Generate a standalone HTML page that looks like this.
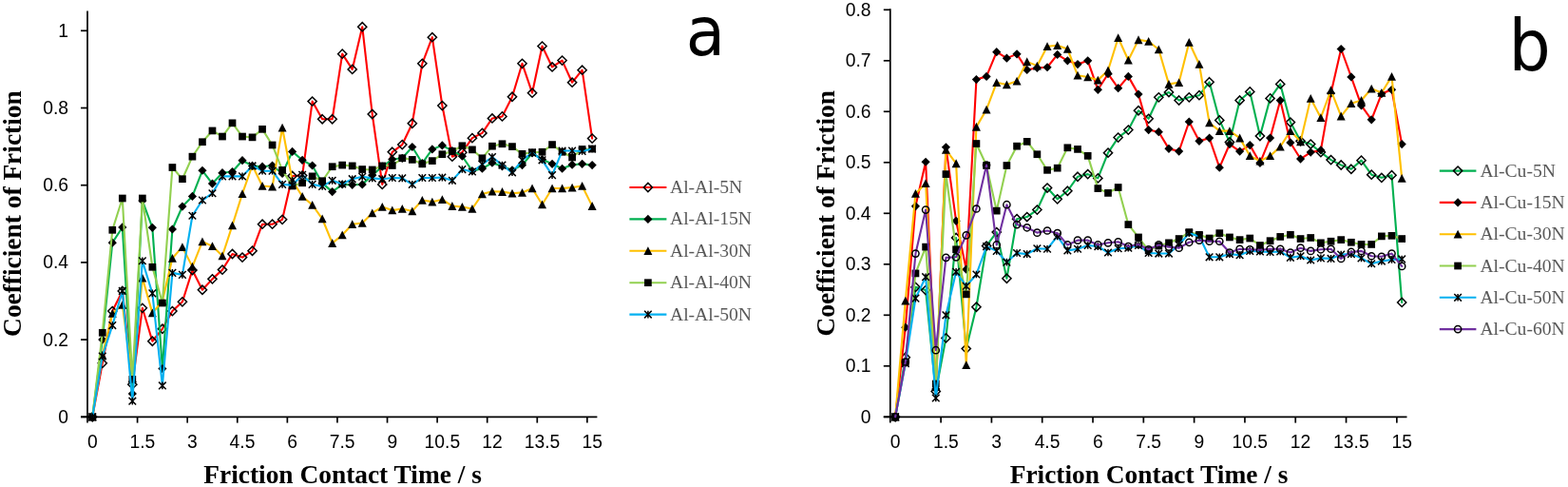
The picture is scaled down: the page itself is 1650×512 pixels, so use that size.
<!DOCTYPE html>
<html><head><meta charset="utf-8"><title>Coefficient of Friction vs Friction Contact Time</title>
<style>
html,body{margin:0;padding:0;background:#fff;}
body{width:1650px;height:512px;overflow:hidden;}
svg{display:block;}
.ax{stroke:#000;stroke-width:1.7;fill:none;}
.tl{font-family:"Liberation Sans",Arial,sans-serif;font-size:19.3px;fill:#000;}
.lg{font-family:"Liberation Serif","Times New Roman",serif;font-size:19.6px;fill:#595959;}
.ti{font-family:"Liberation Serif","Times New Roman",serif;font-size:27.4px;font-weight:bold;fill:#000;}
.big{font-family:"DejaVu Sans",sans-serif;fill:#000;}
.od{fill:none;stroke:#000;stroke-width:1.5;}
.oc{fill:none;stroke:#000;stroke-width:1.5;}
.as{fill:none;stroke:#000;stroke-width:1.5;}
</style></head>
<body>
<svg width="1650" height="512" viewBox="0 0 1650 512">
<rect width="1650" height="512" fill="#fff"/>
<path d="M92 11.5V444.6" class="ax"/>
<path d="M85 438.3H628.4" class="ax"/>
<path d="M85 438.3H92" class="ax"/>
<text x="72" y="444.8" class="tl" text-anchor="end">0</text>
<path d="M85 357.1H92" class="ax"/>
<text x="72" y="363.6" class="tl" text-anchor="end">0.2</text>
<path d="M85 275.9H92" class="ax"/>
<text x="72" y="282.4" class="tl" text-anchor="end">0.4</text>
<path d="M85 194.7H92" class="ax"/>
<text x="72" y="201.2" class="tl" text-anchor="end">0.6</text>
<path d="M85 113.5H92" class="ax"/>
<text x="72" y="120" class="tl" text-anchor="end">0.8</text>
<path d="M85 32.3H92" class="ax"/>
<text x="72" y="38.8" class="tl" text-anchor="end">1</text>
<path d="M144.59 438.3V444.6" class="ax"/>
<path d="M197.18 438.3V444.6" class="ax"/>
<path d="M249.76 438.3V444.6" class="ax"/>
<path d="M302.35 438.3V444.6" class="ax"/>
<path d="M354.94 438.3V444.6" class="ax"/>
<path d="M407.53 438.3V444.6" class="ax"/>
<path d="M460.12 438.3V444.6" class="ax"/>
<path d="M512.71 438.3V444.6" class="ax"/>
<path d="M565.29 438.3V444.6" class="ax"/>
<path d="M617.88 438.3V444.6" class="ax"/>
<text x="97.26" y="471.2" class="tl" text-anchor="middle">0</text>
<text x="149.85" y="471.2" class="tl" text-anchor="middle">1.5</text>
<text x="202.44" y="471.2" class="tl" text-anchor="middle">3</text>
<text x="255.02" y="471.2" class="tl" text-anchor="middle">4.5</text>
<text x="307.61" y="471.2" class="tl" text-anchor="middle">6</text>
<text x="360.2" y="471.2" class="tl" text-anchor="middle">7.5</text>
<text x="412.79" y="471.2" class="tl" text-anchor="middle">9</text>
<text x="465.38" y="471.2" class="tl" text-anchor="middle">10.5</text>
<text x="517.96" y="471.2" class="tl" text-anchor="middle">12</text>
<text x="570.55" y="471.2" class="tl" text-anchor="middle">13.5</text>
<text x="623.14" y="471.2" class="tl" text-anchor="middle">15</text>
<path d="M97.26 438.3 L107.78 381.87 L118.29 327.06 L128.81 305.94 L139.33 404.2 L149.85 323.81 L160.36 358.72 L170.88 345.73 L181.4 327.06 L191.92 317.31 L202.44 284.02 L212.95 304.73 L223.47 293.36 L233.99 283.61 L244.51 266.97 L255.02 270.62 L265.54 263.72 L276.06 235.71 L286.58 235.71 L297.09 230.83 L307.61 184.96 L318.13 184.55 L328.65 106.6 L339.16 125.27 L349.68 125.27 L360.2 56.66 L370.72 72.9 L381.24 28.24 L391.75 120 L402.27 193.89 L412.79 159.78 L423.31 152.07 L433.82 129.74 L444.34 66.81 L454.86 39.2 L465.38 111.06 L475.89 164.66 L486.41 160.19 L496.93 145.17 L507.45 139.89 L517.96 124.46 L528.48 122.43 L539 101.73 L549.52 66.81 L560.04 97.67 L570.55 48.54 L581.07 70.46 L591.59 63.56 L602.11 86.7 L612.62 73.71 L623.14 145.57" fill="none" stroke="#FF0000" stroke-width="2.1" stroke-linejoin="round" stroke-linecap="round"/>
<g><path d="M97.26 433.7L101.86 438.3L97.26 442.9L92.66 438.3Z" class="od"/><path d="M107.78 377.27L112.38 381.87L107.78 386.47L103.18 381.87Z" class="od"/><path d="M118.29 322.46L122.89 327.06L118.29 331.66L113.69 327.06Z" class="od"/><path d="M128.81 301.34L133.41 305.94L128.81 310.54L124.21 305.94Z" class="od"/><path d="M139.33 399.6L143.93 404.2L139.33 408.8L134.73 404.2Z" class="od"/><path d="M149.85 319.21L154.45 323.81L149.85 328.41L145.25 323.81Z" class="od"/><path d="M160.36 354.12L164.96 358.72L160.36 363.32L155.76 358.72Z" class="od"/><path d="M170.88 341.13L175.48 345.73L170.88 350.33L166.28 345.73Z" class="od"/><path d="M181.4 322.46L186 327.06L181.4 331.66L176.8 327.06Z" class="od"/><path d="M191.92 312.71L196.52 317.31L191.92 321.91L187.32 317.31Z" class="od"/><path d="M202.44 279.42L207.04 284.02L202.44 288.62L197.84 284.02Z" class="od"/><path d="M212.95 300.13L217.55 304.73L212.95 309.33L208.35 304.73Z" class="od"/><path d="M223.47 288.76L228.07 293.36L223.47 297.96L218.87 293.36Z" class="od"/><path d="M233.99 279.01L238.59 283.61L233.99 288.21L229.39 283.61Z" class="od"/><path d="M244.51 262.37L249.11 266.97L244.51 271.57L239.91 266.97Z" class="od"/><path d="M255.02 266.02L259.62 270.62L255.02 275.22L250.42 270.62Z" class="od"/><path d="M265.54 259.12L270.14 263.72L265.54 268.32L260.94 263.72Z" class="od"/><path d="M276.06 231.11L280.66 235.71L276.06 240.31L271.46 235.71Z" class="od"/><path d="M286.58 231.11L291.18 235.71L286.58 240.31L281.98 235.71Z" class="od"/><path d="M297.09 226.23L301.69 230.83L297.09 235.43L292.49 230.83Z" class="od"/><path d="M307.61 180.36L312.21 184.96L307.61 189.56L303.01 184.96Z" class="od"/><path d="M318.13 179.95L322.73 184.55L318.13 189.15L313.53 184.55Z" class="od"/><path d="M328.65 102L333.25 106.6L328.65 111.2L324.05 106.6Z" class="od"/><path d="M339.16 120.67L343.76 125.27L339.16 129.87L334.56 125.27Z" class="od"/><path d="M349.68 120.67L354.28 125.27L349.68 129.87L345.08 125.27Z" class="od"/><path d="M360.2 52.06L364.8 56.66L360.2 61.26L355.6 56.66Z" class="od"/><path d="M370.72 68.3L375.32 72.9L370.72 77.5L366.12 72.9Z" class="od"/><path d="M381.24 23.64L385.84 28.24L381.24 32.84L376.64 28.24Z" class="od"/><path d="M391.75 115.4L396.35 120L391.75 124.6L387.15 120Z" class="od"/><path d="M402.27 189.29L406.87 193.89L402.27 198.49L397.67 193.89Z" class="od"/><path d="M412.79 155.18L417.39 159.78L412.79 164.38L408.19 159.78Z" class="od"/><path d="M423.31 147.47L427.91 152.07L423.31 156.67L418.71 152.07Z" class="od"/><path d="M433.82 125.14L438.42 129.74L433.82 134.34L429.22 129.74Z" class="od"/><path d="M444.34 62.21L448.94 66.81L444.34 71.41L439.74 66.81Z" class="od"/><path d="M454.86 34.6L459.46 39.2L454.86 43.8L450.26 39.2Z" class="od"/><path d="M465.38 106.46L469.98 111.06L465.38 115.66L460.78 111.06Z" class="od"/><path d="M475.89 160.06L480.49 164.66L475.89 169.26L471.29 164.66Z" class="od"/><path d="M486.41 155.59L491.01 160.19L486.41 164.79L481.81 160.19Z" class="od"/><path d="M496.93 140.57L501.53 145.17L496.93 149.77L492.33 145.17Z" class="od"/><path d="M507.45 135.29L512.05 139.89L507.45 144.49L502.85 139.89Z" class="od"/><path d="M517.96 119.86L522.56 124.46L517.96 129.06L513.36 124.46Z" class="od"/><path d="M528.48 117.83L533.08 122.43L528.48 127.03L523.88 122.43Z" class="od"/><path d="M539 97.13L543.6 101.73L539 106.33L534.4 101.73Z" class="od"/><path d="M549.52 62.21L554.12 66.81L549.52 71.41L544.92 66.81Z" class="od"/><path d="M560.04 93.07L564.64 97.67L560.04 102.27L555.44 97.67Z" class="od"/><path d="M570.55 43.94L575.15 48.54L570.55 53.14L565.95 48.54Z" class="od"/><path d="M581.07 65.86L585.67 70.46L581.07 75.06L576.47 70.46Z" class="od"/><path d="M591.59 58.96L596.19 63.56L591.59 68.16L586.99 63.56Z" class="od"/><path d="M602.11 82.1L606.71 86.7L602.11 91.3L597.51 86.7Z" class="od"/><path d="M612.62 69.11L617.22 73.71L612.62 78.31L608.02 73.71Z" class="od"/><path d="M623.14 140.97L627.74 145.57L623.14 150.17L618.54 145.57Z" class="od"/></g>
<path d="M97.26 438.3 L107.78 357.1 L118.29 255.19 L128.81 238.95 L139.33 413.94 L149.85 210.94 L160.36 239.36 L170.88 387.55 L181.4 240.98 L191.92 217.03 L202.44 206.47 L212.95 179.27 L223.47 193.08 L233.99 181.71 L244.51 180.49 L255.02 168.72 L265.54 174.4 L276.06 175.21 L286.58 173.99 L297.09 182.52 L307.61 159.38 L318.13 168.31 L328.65 173.99 L339.16 192.67 L349.68 201.6 L360.2 193.89 L370.72 194.29 L381.24 193.89 L391.75 184.14 L402.27 175.21 L412.79 167.5 L423.31 166.28 L433.82 154.51 L444.34 171.56 L454.86 156.94 L465.38 152.88 L475.89 158.57 L486.41 164.25 L496.93 179.68 L507.45 177.24 L517.96 171.15 L528.48 174.81 L539 178.87 L549.52 173.59 L560.04 161 L570.55 167.5 L581.07 172.37 L591.59 177.24 L602.11 173.18 L612.62 172.37 L623.14 173.59" fill="none" stroke="#00B050" stroke-width="2.1" stroke-linejoin="round" stroke-linecap="round"/>
<g><path d="M97.26 433.7L101.86 438.3L97.26 442.9L92.66 438.3Z"/><path d="M107.78 352.5L112.38 357.1L107.78 361.7L103.18 357.1Z"/><path d="M118.29 250.59L122.89 255.19L118.29 259.79L113.69 255.19Z"/><path d="M128.81 234.35L133.41 238.95L128.81 243.55L124.21 238.95Z"/><path d="M139.33 409.34L143.93 413.94L139.33 418.54L134.73 413.94Z"/><path d="M149.85 206.34L154.45 210.94L149.85 215.54L145.25 210.94Z"/><path d="M160.36 234.76L164.96 239.36L160.36 243.96L155.76 239.36Z"/><path d="M170.88 382.95L175.48 387.55L170.88 392.15L166.28 387.55Z"/><path d="M181.4 236.38L186 240.98L181.4 245.58L176.8 240.98Z"/><path d="M191.92 212.43L196.52 217.03L191.92 221.63L187.32 217.03Z"/><path d="M202.44 201.87L207.04 206.47L202.44 211.07L197.84 206.47Z"/><path d="M212.95 174.67L217.55 179.27L212.95 183.87L208.35 179.27Z"/><path d="M223.47 188.48L228.07 193.08L223.47 197.68L218.87 193.08Z"/><path d="M233.99 177.11L238.59 181.71L233.99 186.31L229.39 181.71Z"/><path d="M244.51 175.89L249.11 180.49L244.51 185.09L239.91 180.49Z"/><path d="M255.02 164.12L259.62 168.72L255.02 173.32L250.42 168.72Z"/><path d="M265.54 169.8L270.14 174.4L265.54 179L260.94 174.4Z"/><path d="M276.06 170.61L280.66 175.21L276.06 179.81L271.46 175.21Z"/><path d="M286.58 169.39L291.18 173.99L286.58 178.59L281.98 173.99Z"/><path d="M297.09 177.92L301.69 182.52L297.09 187.12L292.49 182.52Z"/><path d="M307.61 154.78L312.21 159.38L307.61 163.98L303.01 159.38Z"/><path d="M318.13 163.71L322.73 168.31L318.13 172.91L313.53 168.31Z"/><path d="M328.65 169.39L333.25 173.99L328.65 178.59L324.05 173.99Z"/><path d="M339.16 188.07L343.76 192.67L339.16 197.27L334.56 192.67Z"/><path d="M349.68 197L354.28 201.6L349.68 206.2L345.08 201.6Z"/><path d="M360.2 189.29L364.8 193.89L360.2 198.49L355.6 193.89Z"/><path d="M370.72 189.69L375.32 194.29L370.72 198.89L366.12 194.29Z"/><path d="M381.24 189.29L385.84 193.89L381.24 198.49L376.64 193.89Z"/><path d="M391.75 179.54L396.35 184.14L391.75 188.74L387.15 184.14Z"/><path d="M402.27 170.61L406.87 175.21L402.27 179.81L397.67 175.21Z"/><path d="M412.79 162.9L417.39 167.5L412.79 172.1L408.19 167.5Z"/><path d="M423.31 161.68L427.91 166.28L423.31 170.88L418.71 166.28Z"/><path d="M433.82 149.91L438.42 154.51L433.82 159.11L429.22 154.51Z"/><path d="M444.34 166.96L448.94 171.56L444.34 176.16L439.74 171.56Z"/><path d="M454.86 152.34L459.46 156.94L454.86 161.54L450.26 156.94Z"/><path d="M465.38 148.28L469.98 152.88L465.38 157.48L460.78 152.88Z"/><path d="M475.89 153.97L480.49 158.57L475.89 163.17L471.29 158.57Z"/><path d="M486.41 159.65L491.01 164.25L486.41 168.85L481.81 164.25Z"/><path d="M496.93 175.08L501.53 179.68L496.93 184.28L492.33 179.68Z"/><path d="M507.45 172.64L512.05 177.24L507.45 181.84L502.85 177.24Z"/><path d="M517.96 166.55L522.56 171.15L517.96 175.75L513.36 171.15Z"/><path d="M528.48 170.21L533.08 174.81L528.48 179.41L523.88 174.81Z"/><path d="M539 174.27L543.6 178.87L539 183.47L534.4 178.87Z"/><path d="M549.52 168.99L554.12 173.59L549.52 178.19L544.92 173.59Z"/><path d="M560.04 156.4L564.64 161L560.04 165.6L555.44 161Z"/><path d="M570.55 162.9L575.15 167.5L570.55 172.1L565.95 167.5Z"/><path d="M581.07 167.77L585.67 172.37L581.07 176.97L576.47 172.37Z"/><path d="M591.59 172.64L596.19 177.24L591.59 181.84L586.99 177.24Z"/><path d="M602.11 168.58L606.71 173.18L602.11 177.78L597.51 173.18Z"/><path d="M612.62 167.77L617.22 172.37L612.62 176.97L608.02 172.37Z"/><path d="M623.14 168.99L627.74 173.59L623.14 178.19L618.54 173.59Z"/></g>
<path d="M97.26 438.3 L107.78 373.34 L118.29 329.49 L128.81 320.56 L139.33 397.7 L149.85 292.14 L160.36 329.09 L170.88 316.5 L181.4 271.43 L191.92 259.66 L202.44 280.37 L212.95 253.98 L223.47 258.85 L233.99 269 L244.51 236.92 L255.02 203.63 L265.54 173.99 L276.06 195.51 L286.58 196.32 L297.09 134.21 L307.61 189.83 L318.13 206.47 L328.65 215.41 L339.16 230.02 L349.68 255.6 L360.2 247.07 L370.72 235.71 L381.24 234.49 L391.75 223.93 L402.27 217.44 L412.79 221.09 L423.31 219.47 L433.82 221.9 L444.34 210.53 L454.86 212.16 L465.38 209.72 L475.89 216.62 L486.41 217.44 L496.93 219.47 L507.45 204.04 L517.96 201.2 L528.48 201.6 L539 203.23 L549.52 202.41 L560.04 197.95 L570.55 215 L581.07 197.95 L591.59 197.95 L602.11 197.14 L612.62 195.51 L623.14 216.62" fill="none" stroke="#FFC000" stroke-width="2.1" stroke-linejoin="round" stroke-linecap="round"/>
<g><path d="M97.26 433.8L101.76 442.57L92.76 442.57Z"/><path d="M107.78 368.84L112.28 377.62L103.28 377.62Z"/><path d="M118.29 324.99L122.79 333.77L113.79 333.77Z"/><path d="M128.81 316.06L133.31 324.83L124.31 324.83Z"/><path d="M139.33 393.2L143.83 401.97L134.83 401.97Z"/><path d="M149.85 287.64L154.35 296.41L145.35 296.41Z"/><path d="M160.36 324.59L164.86 333.36L155.86 333.36Z"/><path d="M170.88 312L175.38 320.77L166.38 320.77Z"/><path d="M181.4 266.93L185.9 275.71L176.9 275.71Z"/><path d="M191.92 255.16L196.42 263.93L187.42 263.93Z"/><path d="M202.44 275.87L206.94 284.64L197.94 284.64Z"/><path d="M212.95 249.48L217.45 258.25L208.45 258.25Z"/><path d="M223.47 254.35L227.97 263.12L218.97 263.12Z"/><path d="M233.99 264.5L238.49 273.27L229.49 273.27Z"/><path d="M244.51 232.42L249.01 241.2L240.01 241.2Z"/><path d="M255.02 199.13L259.52 207.91L250.52 207.91Z"/><path d="M265.54 169.49L270.04 178.27L261.04 178.27Z"/><path d="M276.06 191.01L280.56 199.79L271.56 199.79Z"/><path d="M286.58 191.82L291.08 200.6L282.08 200.6Z"/><path d="M297.09 129.71L301.59 138.48L292.59 138.48Z"/><path d="M307.61 185.33L312.11 194.1L303.11 194.1Z"/><path d="M318.13 201.97L322.63 210.75L313.63 210.75Z"/><path d="M328.65 210.91L333.15 219.68L324.15 219.68Z"/><path d="M339.16 225.52L343.66 234.3L334.66 234.3Z"/><path d="M349.68 251.1L354.18 259.88L345.18 259.88Z"/><path d="M360.2 242.57L364.7 251.35L355.7 251.35Z"/><path d="M370.72 231.21L375.22 239.98L366.22 239.98Z"/><path d="M381.24 229.99L385.74 238.76L376.74 238.76Z"/><path d="M391.75 219.43L396.25 228.21L387.25 228.21Z"/><path d="M402.27 212.94L406.77 221.71L397.77 221.71Z"/><path d="M412.79 216.59L417.29 225.37L408.29 225.37Z"/><path d="M423.31 214.97L427.81 223.74L418.81 223.74Z"/><path d="M433.82 217.4L438.32 226.18L429.32 226.18Z"/><path d="M444.34 206.03L448.84 214.81L439.84 214.81Z"/><path d="M454.86 207.66L459.36 216.43L450.36 216.43Z"/><path d="M465.38 205.22L469.88 214L460.88 214Z"/><path d="M475.89 212.12L480.39 220.9L471.39 220.9Z"/><path d="M486.41 212.94L490.91 221.71L481.91 221.71Z"/><path d="M496.93 214.97L501.43 223.74L492.43 223.74Z"/><path d="M507.45 199.54L511.95 208.31L502.95 208.31Z"/><path d="M517.96 196.7L522.46 205.47L513.46 205.47Z"/><path d="M528.48 197.1L532.98 205.88L523.98 205.88Z"/><path d="M539 198.73L543.5 207.5L534.5 207.5Z"/><path d="M549.52 197.91L554.02 206.69L545.02 206.69Z"/><path d="M560.04 193.45L564.54 202.22L555.54 202.22Z"/><path d="M570.55 210.5L575.05 219.28L566.05 219.28Z"/><path d="M581.07 193.45L585.57 202.22L576.57 202.22Z"/><path d="M591.59 193.45L596.09 202.22L587.09 202.22Z"/><path d="M602.11 192.64L606.61 201.41L597.61 201.41Z"/><path d="M612.62 191.01L617.12 199.79L608.12 199.79Z"/><path d="M623.14 212.12L627.64 220.9L618.64 220.9Z"/></g>
<path d="M97.26 438.3 L107.78 349.79 L118.29 241.8 L128.81 208.5 L139.33 398.92 L149.85 208.5 L160.36 280.77 L170.88 318.53 L181.4 176.02 L191.92 188.2 L202.44 164.66 L212.95 149.23 L223.47 137.45 L233.99 143.54 L244.51 129.33 L255.02 143.54 L265.54 144.36 L276.06 135.83 L286.58 152.48 L297.09 178.87 L307.61 195.51 L318.13 192.26 L328.65 185.36 L339.16 190.23 L349.68 175.21 L360.2 173.59 L370.72 174.4 L381.24 178.05 L391.75 178.46 L402.27 174.4 L412.79 173.99 L423.31 166.28 L433.82 167.9 L444.34 172.37 L454.86 169.12 L465.38 162.22 L475.89 158.97 L486.41 153.29 L496.93 157.35 L507.45 166.28 L517.96 153.69 L528.48 151.26 L539 154.1 L549.52 161.81 L560.04 160.19 L570.55 159.78 L581.07 152.07 L591.59 159.78 L602.11 165.47 L612.62 156.94 L623.14 156.54" fill="none" stroke="#92D050" stroke-width="2.1" stroke-linejoin="round" stroke-linecap="round"/>
<g><rect x="93.41" y="434.45" width="7.7" height="7.7"/><rect x="103.93" y="345.94" width="7.7" height="7.7"/><rect x="114.44" y="237.95" width="7.7" height="7.7"/><rect x="124.96" y="204.65" width="7.7" height="7.7"/><rect x="135.48" y="395.07" width="7.7" height="7.7"/><rect x="146" y="204.65" width="7.7" height="7.7"/><rect x="156.51" y="276.92" width="7.7" height="7.7"/><rect x="167.03" y="314.68" width="7.7" height="7.7"/><rect x="177.55" y="172.17" width="7.7" height="7.7"/><rect x="188.07" y="184.35" width="7.7" height="7.7"/><rect x="198.59" y="160.81" width="7.7" height="7.7"/><rect x="209.1" y="145.38" width="7.7" height="7.7"/><rect x="219.62" y="133.6" width="7.7" height="7.7"/><rect x="230.14" y="139.69" width="7.7" height="7.7"/><rect x="240.66" y="125.48" width="7.7" height="7.7"/><rect x="251.17" y="139.69" width="7.7" height="7.7"/><rect x="261.69" y="140.51" width="7.7" height="7.7"/><rect x="272.21" y="131.98" width="7.7" height="7.7"/><rect x="282.73" y="148.63" width="7.7" height="7.7"/><rect x="293.24" y="175.02" width="7.7" height="7.7"/><rect x="303.76" y="191.66" width="7.7" height="7.7"/><rect x="314.28" y="188.41" width="7.7" height="7.7"/><rect x="324.8" y="181.51" width="7.7" height="7.7"/><rect x="335.31" y="186.38" width="7.7" height="7.7"/><rect x="345.83" y="171.36" width="7.7" height="7.7"/><rect x="356.35" y="169.74" width="7.7" height="7.7"/><rect x="366.87" y="170.55" width="7.7" height="7.7"/><rect x="377.39" y="174.2" width="7.7" height="7.7"/><rect x="387.9" y="174.61" width="7.7" height="7.7"/><rect x="398.42" y="170.55" width="7.7" height="7.7"/><rect x="408.94" y="170.14" width="7.7" height="7.7"/><rect x="419.46" y="162.43" width="7.7" height="7.7"/><rect x="429.97" y="164.05" width="7.7" height="7.7"/><rect x="440.49" y="168.52" width="7.7" height="7.7"/><rect x="451.01" y="165.27" width="7.7" height="7.7"/><rect x="461.53" y="158.37" width="7.7" height="7.7"/><rect x="472.04" y="155.12" width="7.7" height="7.7"/><rect x="482.56" y="149.44" width="7.7" height="7.7"/><rect x="493.08" y="153.5" width="7.7" height="7.7"/><rect x="503.6" y="162.43" width="7.7" height="7.7"/><rect x="514.11" y="149.84" width="7.7" height="7.7"/><rect x="524.63" y="147.41" width="7.7" height="7.7"/><rect x="535.15" y="150.25" width="7.7" height="7.7"/><rect x="545.67" y="157.96" width="7.7" height="7.7"/><rect x="556.19" y="156.34" width="7.7" height="7.7"/><rect x="566.7" y="155.93" width="7.7" height="7.7"/><rect x="577.22" y="148.22" width="7.7" height="7.7"/><rect x="587.74" y="155.93" width="7.7" height="7.7"/><rect x="598.26" y="161.62" width="7.7" height="7.7"/><rect x="608.77" y="153.09" width="7.7" height="7.7"/><rect x="619.29" y="152.69" width="7.7" height="7.7"/></g>
<path d="M97.26 438.3 L107.78 374.56 L118.29 342.08 L128.81 305.94 L139.33 421.65 L149.85 274.28 L160.36 308.38 L170.88 405.41 L181.4 286.86 L191.92 288.89 L202.44 226.77 L212.95 210.53 L223.47 203.23 L233.99 185.36 L244.51 185.36 L255.02 185.36 L265.54 174.4 L276.06 179.68 L286.58 179.68 L297.09 193.89 L307.61 194.7 L318.13 183.74 L328.65 193.89 L339.16 195.92 L349.68 189.83 L360.2 193.48 L370.72 188.2 L381.24 185.77 L391.75 187.39 L402.27 188.2 L412.79 186.99 L423.31 187.39 L433.82 193.89 L444.34 186.99 L454.86 186.99 L465.38 186.58 L475.89 189.83 L486.41 178.05 L496.93 180.49 L507.45 172.78 L517.96 165.06 L528.48 173.59 L539 181.3 L549.52 168.31 L560.04 160.6 L570.55 168.31 L581.07 184.14 L591.59 158.57 L602.11 158.57 L612.62 158.97 L623.14 156.54" fill="none" stroke="#00B0F0" stroke-width="2.1" stroke-linejoin="round" stroke-linecap="round"/>
<g><path d="M93.46 434.5L101.06 442.1M93.46 442.1L101.06 434.5M97.26 434.5L97.26 442.1" class="as"/><path d="M103.98 370.76L111.58 378.36M103.98 378.36L111.58 370.76M107.78 370.76L107.78 378.36" class="as"/><path d="M114.49 338.28L122.09 345.88M114.49 345.88L122.09 338.28M118.29 338.28L118.29 345.88" class="as"/><path d="M125.01 302.14L132.61 309.74M125.01 309.74L132.61 302.14M128.81 302.14L128.81 309.74" class="as"/><path d="M135.53 417.85L143.13 425.45M135.53 425.45L143.13 417.85M139.33 417.85L139.33 425.45" class="as"/><path d="M146.05 270.48L153.65 278.08M146.05 278.08L153.65 270.48M149.85 270.48L149.85 278.08" class="as"/><path d="M156.56 304.58L164.16 312.18M156.56 312.18L164.16 304.58M160.36 304.58L160.36 312.18" class="as"/><path d="M167.08 401.61L174.68 409.21M167.08 409.21L174.68 401.61M170.88 401.61L170.88 409.21" class="as"/><path d="M177.6 283.06L185.2 290.66M177.6 290.66L185.2 283.06M181.4 283.06L181.4 290.66" class="as"/><path d="M188.12 285.09L195.72 292.69M188.12 292.69L195.72 285.09M191.92 285.09L191.92 292.69" class="as"/><path d="M198.64 222.97L206.24 230.57M198.64 230.57L206.24 222.97M202.44 222.97L202.44 230.57" class="as"/><path d="M209.15 206.73L216.75 214.33M209.15 214.33L216.75 206.73M212.95 206.73L212.95 214.33" class="as"/><path d="M219.67 199.43L227.27 207.03M219.67 207.03L227.27 199.43M223.47 199.43L223.47 207.03" class="as"/><path d="M230.19 181.56L237.79 189.16M230.19 189.16L237.79 181.56M233.99 181.56L233.99 189.16" class="as"/><path d="M240.71 181.56L248.31 189.16M240.71 189.16L248.31 181.56M244.51 181.56L244.51 189.16" class="as"/><path d="M251.22 181.56L258.82 189.16M251.22 189.16L258.82 181.56M255.02 181.56L255.02 189.16" class="as"/><path d="M261.74 170.6L269.34 178.2M261.74 178.2L269.34 170.6M265.54 170.6L265.54 178.2" class="as"/><path d="M272.26 175.88L279.86 183.48M272.26 183.48L279.86 175.88M276.06 175.88L276.06 183.48" class="as"/><path d="M282.78 175.88L290.38 183.48M282.78 183.48L290.38 175.88M286.58 175.88L286.58 183.48" class="as"/><path d="M293.29 190.09L300.89 197.69M293.29 197.69L300.89 190.09M297.09 190.09L297.09 197.69" class="as"/><path d="M303.81 190.9L311.41 198.5M303.81 198.5L311.41 190.9M307.61 190.9L307.61 198.5" class="as"/><path d="M314.33 179.94L321.93 187.54M314.33 187.54L321.93 179.94M318.13 179.94L318.13 187.54" class="as"/><path d="M324.85 190.09L332.45 197.69M324.85 197.69L332.45 190.09M328.65 190.09L328.65 197.69" class="as"/><path d="M335.36 192.12L342.96 199.72M335.36 199.72L342.96 192.12M339.16 192.12L339.16 199.72" class="as"/><path d="M345.88 186.03L353.48 193.63M345.88 193.63L353.48 186.03M349.68 186.03L349.68 193.63" class="as"/><path d="M356.4 189.68L364 197.28M356.4 197.28L364 189.68M360.2 189.68L360.2 197.28" class="as"/><path d="M366.92 184.4L374.52 192M366.92 192L374.52 184.4M370.72 184.4L370.72 192" class="as"/><path d="M377.44 181.97L385.04 189.57M377.44 189.57L385.04 181.97M381.24 181.97L381.24 189.57" class="as"/><path d="M387.95 183.59L395.55 191.19M387.95 191.19L395.55 183.59M391.75 183.59L391.75 191.19" class="as"/><path d="M398.47 184.4L406.07 192M398.47 192L406.07 184.4M402.27 184.4L402.27 192" class="as"/><path d="M408.99 183.19L416.59 190.79M408.99 190.79L416.59 183.19M412.79 183.19L412.79 190.79" class="as"/><path d="M419.51 183.59L427.11 191.19M419.51 191.19L427.11 183.59M423.31 183.59L423.31 191.19" class="as"/><path d="M430.02 190.09L437.62 197.69M430.02 197.69L437.62 190.09M433.82 190.09L433.82 197.69" class="as"/><path d="M440.54 183.19L448.14 190.79M440.54 190.79L448.14 183.19M444.34 183.19L444.34 190.79" class="as"/><path d="M451.06 183.19L458.66 190.79M451.06 190.79L458.66 183.19M454.86 183.19L454.86 190.79" class="as"/><path d="M461.58 182.78L469.18 190.38M461.58 190.38L469.18 182.78M465.38 182.78L465.38 190.38" class="as"/><path d="M472.09 186.03L479.69 193.63M472.09 193.63L479.69 186.03M475.89 186.03L475.89 193.63" class="as"/><path d="M482.61 174.25L490.21 181.85M482.61 181.85L490.21 174.25M486.41 174.25L486.41 181.85" class="as"/><path d="M493.13 176.69L500.73 184.29M493.13 184.29L500.73 176.69M496.93 176.69L496.93 184.29" class="as"/><path d="M503.65 168.98L511.25 176.58M503.65 176.58L511.25 168.98M507.45 168.98L507.45 176.58" class="as"/><path d="M514.16 161.26L521.76 168.86M514.16 168.86L521.76 161.26M517.96 161.26L517.96 168.86" class="as"/><path d="M524.68 169.79L532.28 177.39M524.68 177.39L532.28 169.79M528.48 169.79L528.48 177.39" class="as"/><path d="M535.2 177.5L542.8 185.1M535.2 185.1L542.8 177.5M539 177.5L539 185.1" class="as"/><path d="M545.72 164.51L553.32 172.11M545.72 172.11L553.32 164.51M549.52 164.51L549.52 172.11" class="as"/><path d="M556.24 156.8L563.84 164.4M556.24 164.4L563.84 156.8M560.04 156.8L560.04 164.4" class="as"/><path d="M566.75 164.51L574.35 172.11M566.75 172.11L574.35 164.51M570.55 164.51L570.55 172.11" class="as"/><path d="M577.27 180.34L584.87 187.94M577.27 187.94L584.87 180.34M581.07 180.34L581.07 187.94" class="as"/><path d="M587.79 154.77L595.39 162.37M587.79 162.37L595.39 154.77M591.59 154.77L591.59 162.37" class="as"/><path d="M598.31 154.77L605.91 162.37M598.31 162.37L605.91 154.77M602.11 154.77L602.11 162.37" class="as"/><path d="M608.82 155.17L616.42 162.77M608.82 162.77L616.42 155.17M612.62 155.17L612.62 162.77" class="as"/><path d="M619.34 152.74L626.94 160.34M619.34 160.34L626.94 152.74M623.14 152.74L623.14 160.34" class="as"/></g>
<path d="M662.4 197H701.4" stroke="#FF0000" stroke-width="2.1" fill="none"/>
<path d="M681.9 192.4L686.5 197L681.9 201.6L677.3 197Z" class="od"/>
<text x="705" y="203" class="lg">Al-Al-5N</text>
<path d="M662.4 230.4H701.4" stroke="#00B050" stroke-width="2.1" fill="none"/>
<path d="M681.9 225.8L686.5 230.4L681.9 235L677.3 230.4Z"/>
<text x="705" y="236.4" class="lg">Al-Al-15N</text>
<path d="M662.4 263.8H701.4" stroke="#FFC000" stroke-width="2.1" fill="none"/>
<path d="M681.9 259.3L686.4 268.07L677.4 268.07Z"/>
<text x="705" y="269.8" class="lg">Al-Al-30N</text>
<path d="M662.4 297.2H701.4" stroke="#92D050" stroke-width="2.1" fill="none"/>
<rect x="678.05" y="293.35" width="7.7" height="7.7"/>
<text x="705" y="303.2" class="lg">Al-Al-40N</text>
<path d="M662.4 330.6H701.4" stroke="#00B0F0" stroke-width="2.1" fill="none"/>
<path d="M678.1 326.8L685.7 334.4M678.1 334.4L685.7 326.8M681.9 326.8L681.9 334.4" class="as"/>
<text x="705" y="336.6" class="lg">Al-Al-50N</text>
<path d="M936.8 9.3V444.6" class="ax"/>
<path d="M929.8 438.3H1480.5" class="ax"/>
<path d="M929.8 438.3H936.8" class="ax"/>
<text x="916.6" y="444.8" class="tl" text-anchor="end">0</text>
<path d="M929.8 384.8H936.8" class="ax"/>
<text x="916.6" y="391.3" class="tl" text-anchor="end">0.1</text>
<path d="M929.8 331.3H936.8" class="ax"/>
<text x="916.6" y="337.8" class="tl" text-anchor="end">0.2</text>
<path d="M929.8 277.8H936.8" class="ax"/>
<text x="916.6" y="284.3" class="tl" text-anchor="end">0.3</text>
<path d="M929.8 224.3H936.8" class="ax"/>
<text x="916.6" y="230.8" class="tl" text-anchor="end">0.4</text>
<path d="M929.8 170.8H936.8" class="ax"/>
<text x="916.6" y="177.3" class="tl" text-anchor="end">0.5</text>
<path d="M929.8 117.3H936.8" class="ax"/>
<text x="916.6" y="123.8" class="tl" text-anchor="end">0.6</text>
<path d="M929.8 63.8H936.8" class="ax"/>
<text x="916.6" y="70.3" class="tl" text-anchor="end">0.7</text>
<path d="M929.8 10.3H936.8" class="ax"/>
<text x="916.6" y="16.8" class="tl" text-anchor="end">0.8</text>
<path d="M990.1 438.3V444.6" class="ax"/>
<path d="M1043.41 438.3V444.6" class="ax"/>
<path d="M1096.71 438.3V444.6" class="ax"/>
<path d="M1150.02 438.3V444.6" class="ax"/>
<path d="M1203.32 438.3V444.6" class="ax"/>
<path d="M1256.62 438.3V444.6" class="ax"/>
<path d="M1309.93 438.3V444.6" class="ax"/>
<path d="M1363.23 438.3V444.6" class="ax"/>
<path d="M1416.54 438.3V444.6" class="ax"/>
<path d="M1469.84 438.3V444.6" class="ax"/>
<text x="942.13" y="471.2" class="tl" text-anchor="middle">0</text>
<text x="995.43" y="471.2" class="tl" text-anchor="middle">1.5</text>
<text x="1048.74" y="471.2" class="tl" text-anchor="middle">3</text>
<text x="1102.04" y="471.2" class="tl" text-anchor="middle">4.5</text>
<text x="1155.35" y="471.2" class="tl" text-anchor="middle">6</text>
<text x="1208.65" y="471.2" class="tl" text-anchor="middle">7.5</text>
<text x="1261.95" y="471.2" class="tl" text-anchor="middle">9</text>
<text x="1315.26" y="471.2" class="tl" text-anchor="middle">10.5</text>
<text x="1368.56" y="471.2" class="tl" text-anchor="middle">12</text>
<text x="1421.87" y="471.2" class="tl" text-anchor="middle">13.5</text>
<text x="1475.17" y="471.2" class="tl" text-anchor="middle">15</text>
<path d="M942.13 438.3 L952.79 375.7 L963.45 301.88 L974.11 305.09 L984.77 411.55 L995.43 355.38 L1006.1 249.98 L1016.76 366.61 L1027.42 322.74 L1038.08 258.54 L1048.74 244.1 L1059.4 292.78 L1070.06 230.19 L1080.72 228.05 L1091.38 220.56 L1102.04 197.55 L1112.7 209.32 L1123.36 200.76 L1134.02 185.78 L1144.69 183.11 L1155.35 187.39 L1166.01 160.63 L1176.67 144.58 L1187.33 136.56 L1197.99 116.23 L1208.65 124.79 L1219.31 102.32 L1229.97 96.97 L1240.63 105.53 L1251.29 102.32 L1261.95 100.18 L1272.61 86.27 L1283.28 126.4 L1293.94 149.4 L1304.6 105.53 L1315.26 96.44 L1325.92 142.98 L1336.58 103.39 L1347.24 88.41 L1357.9 128.54 L1368.56 148.33 L1379.22 151.54 L1389.88 160.1 L1400.54 168.12 L1411.2 173.48 L1421.87 177.75 L1432.53 168.66 L1443.19 183.64 L1453.85 186.85 L1464.51 184.18 L1475.17 317.93" fill="none" stroke="#00B050" stroke-width="2.1" stroke-linejoin="round" stroke-linecap="round"/>
<g><path d="M942.13 433.7L946.73 438.3L942.13 442.9L937.53 438.3Z" class="od"/><path d="M952.79 371.1L957.39 375.7L952.79 380.31L948.19 375.7Z" class="od"/><path d="M963.45 297.27L968.05 301.88L963.45 306.48L958.85 301.88Z" class="od"/><path d="M974.11 300.49L978.71 305.09L974.11 309.69L969.51 305.09Z" class="od"/><path d="M984.77 406.95L989.37 411.55L984.77 416.15L980.17 411.55Z" class="od"/><path d="M995.43 350.77L1000.03 355.38L995.43 359.98L990.83 355.38Z" class="od"/><path d="M1006.1 245.38L1010.7 249.98L1006.1 254.58L1001.5 249.98Z" class="od"/><path d="M1016.76 362.01L1021.36 366.61L1016.76 371.21L1012.16 366.61Z" class="od"/><path d="M1027.42 318.14L1032.02 322.74L1027.42 327.34L1022.82 322.74Z" class="od"/><path d="M1038.08 253.94L1042.68 258.54L1038.08 263.14L1033.48 258.54Z" class="od"/><path d="M1048.74 239.5L1053.34 244.1L1048.74 248.7L1044.14 244.1Z" class="od"/><path d="M1059.4 288.18L1064 292.78L1059.4 297.38L1054.8 292.78Z" class="od"/><path d="M1070.06 225.59L1074.66 230.19L1070.06 234.78L1065.46 230.19Z" class="od"/><path d="M1080.72 223.45L1085.32 228.05L1080.72 232.65L1076.12 228.05Z" class="od"/><path d="M1091.38 215.96L1095.98 220.56L1091.38 225.16L1086.78 220.56Z" class="od"/><path d="M1102.04 192.95L1106.64 197.55L1102.04 202.15L1097.44 197.55Z" class="od"/><path d="M1112.7 204.72L1117.3 209.32L1112.7 213.92L1108.1 209.32Z" class="od"/><path d="M1123.36 196.16L1127.96 200.76L1123.36 205.36L1118.76 200.76Z" class="od"/><path d="M1134.02 181.18L1138.62 185.78L1134.02 190.38L1129.42 185.78Z" class="od"/><path d="M1144.69 178.51L1149.29 183.11L1144.69 187.71L1140.09 183.11Z" class="od"/><path d="M1155.35 182.79L1159.95 187.39L1155.35 191.99L1150.75 187.39Z" class="od"/><path d="M1166.01 156.03L1170.61 160.63L1166.01 165.23L1161.41 160.63Z" class="od"/><path d="M1176.67 139.98L1181.27 144.58L1176.67 149.18L1172.07 144.58Z" class="od"/><path d="M1187.33 131.96L1191.93 136.56L1187.33 141.16L1182.73 136.56Z" class="od"/><path d="M1197.99 111.63L1202.59 116.23L1197.99 120.83L1193.39 116.23Z" class="od"/><path d="M1208.65 120.19L1213.25 124.79L1208.65 129.39L1204.05 124.79Z" class="od"/><path d="M1219.31 97.72L1223.91 102.32L1219.31 106.92L1214.71 102.32Z" class="od"/><path d="M1229.97 92.37L1234.57 96.97L1229.97 101.57L1225.37 96.97Z" class="od"/><path d="M1240.63 100.93L1245.23 105.53L1240.63 110.13L1236.03 105.53Z" class="od"/><path d="M1251.29 97.72L1255.89 102.32L1251.29 106.92L1246.69 102.32Z" class="od"/><path d="M1261.95 95.58L1266.55 100.18L1261.95 104.78L1257.35 100.18Z" class="od"/><path d="M1272.61 81.67L1277.21 86.27L1272.61 90.87L1268.01 86.27Z" class="od"/><path d="M1283.28 121.8L1287.88 126.4L1283.28 131L1278.68 126.4Z" class="od"/><path d="M1293.94 144.8L1298.54 149.4L1293.94 154L1289.34 149.4Z" class="od"/><path d="M1304.6 100.93L1309.2 105.53L1304.6 110.13L1300 105.53Z" class="od"/><path d="M1315.26 91.84L1319.86 96.44L1315.26 101.03L1310.66 96.44Z" class="od"/><path d="M1325.92 138.38L1330.52 142.98L1325.92 147.58L1321.32 142.98Z" class="od"/><path d="M1336.58 98.79L1341.18 103.39L1336.58 107.99L1331.98 103.39Z" class="od"/><path d="M1347.24 83.81L1351.84 88.41L1347.24 93.01L1342.64 88.41Z" class="od"/><path d="M1357.9 123.94L1362.5 128.54L1357.9 133.14L1353.3 128.54Z" class="od"/><path d="M1368.56 143.73L1373.16 148.33L1368.56 152.93L1363.96 148.33Z" class="od"/><path d="M1379.22 146.94L1383.82 151.54L1379.22 156.14L1374.62 151.54Z" class="od"/><path d="M1389.88 155.5L1394.48 160.1L1389.88 164.7L1385.28 160.1Z" class="od"/><path d="M1400.54 163.53L1405.14 168.12L1400.54 172.72L1395.94 168.12Z" class="od"/><path d="M1411.2 168.88L1415.8 173.48L1411.2 178.08L1406.6 173.48Z" class="od"/><path d="M1421.87 173.16L1426.47 177.75L1421.87 182.35L1417.27 177.75Z" class="od"/><path d="M1432.53 164.06L1437.13 168.66L1432.53 173.26L1427.93 168.66Z" class="od"/><path d="M1443.19 179.04L1447.79 183.64L1443.19 188.24L1438.59 183.64Z" class="od"/><path d="M1453.85 182.25L1458.45 186.85L1453.85 191.45L1449.25 186.85Z" class="od"/><path d="M1464.51 179.58L1469.11 184.18L1464.51 188.78L1459.91 184.18Z" class="od"/><path d="M1475.17 313.32L1479.77 317.93L1475.17 322.53L1470.57 317.93Z" class="od"/></g>
<path d="M942.13 438.3 L952.79 344.14 L963.45 216.81 L974.11 170.26 L984.77 408.88 L995.43 154.75 L1006.1 232.33 L1016.76 283.15 L1027.42 83.59 L1038.08 80.38 L1048.74 54.71 L1059.4 61.13 L1070.06 56.85 L1080.72 73.43 L1091.38 71.29 L1102.04 70.75 L1112.7 57.38 L1123.36 63.8 L1134.02 67.55 L1144.69 63.8 L1155.35 94.3 L1166.01 77.71 L1176.67 92.69 L1187.33 80.38 L1197.99 99.11 L1208.65 136.56 L1219.31 138.7 L1229.97 156.36 L1240.63 159.03 L1251.29 128 L1261.95 148.33 L1272.61 145.12 L1283.28 176.15 L1293.94 151.54 L1304.6 159.03 L1315.26 152.61 L1325.92 171.34 L1336.58 145.12 L1347.24 105.53 L1357.9 149.94 L1368.56 167.06 L1379.22 160.1 L1389.88 157.96 L1400.54 98.04 L1411.2 51.5 L1421.87 80.92 L1432.53 110.88 L1443.19 125.86 L1453.85 98.57 L1464.51 94.3 L1475.17 151.54" fill="none" stroke="#FF0000" stroke-width="2.1" stroke-linejoin="round" stroke-linecap="round"/>
<g><path d="M942.13 433.7L946.73 438.3L942.13 442.9L937.53 438.3Z"/><path d="M952.79 339.54L957.39 344.14L952.79 348.74L948.19 344.14Z"/><path d="M963.45 212.21L968.05 216.81L963.45 221.41L958.85 216.81Z"/><path d="M974.11 165.66L978.71 170.26L974.11 174.86L969.51 170.26Z"/><path d="M984.77 404.27L989.37 408.88L984.77 413.48L980.17 408.88Z"/><path d="M995.43 150.15L1000.03 154.75L995.43 159.35L990.83 154.75Z"/><path d="M1006.1 227.73L1010.7 232.33L1006.1 236.93L1001.5 232.33Z"/><path d="M1016.76 278.55L1021.36 283.15L1016.76 287.75L1012.16 283.15Z"/><path d="M1027.42 78.99L1032.02 83.59L1027.42 88.19L1022.82 83.59Z"/><path d="M1038.08 75.78L1042.68 80.38L1038.08 84.98L1033.48 80.38Z"/><path d="M1048.74 50.11L1053.34 54.71L1048.74 59.31L1044.14 54.71Z"/><path d="M1059.4 56.53L1064 61.13L1059.4 65.73L1054.8 61.13Z"/><path d="M1070.06 52.25L1074.66 56.85L1070.06 61.45L1065.46 56.85Z"/><path d="M1080.72 68.83L1085.32 73.43L1080.72 78.03L1076.12 73.43Z"/><path d="M1091.38 66.69L1095.98 71.29L1091.38 75.89L1086.78 71.29Z"/><path d="M1102.04 66.16L1106.64 70.75L1102.04 75.35L1097.44 70.75Z"/><path d="M1112.7 52.78L1117.3 57.38L1112.7 61.98L1108.1 57.38Z"/><path d="M1123.36 59.2L1127.96 63.8L1123.36 68.4L1118.76 63.8Z"/><path d="M1134.02 62.95L1138.62 67.55L1134.02 72.15L1129.42 67.55Z"/><path d="M1144.69 59.2L1149.29 63.8L1144.69 68.4L1140.09 63.8Z"/><path d="M1155.35 89.7L1159.95 94.3L1155.35 98.9L1150.75 94.3Z"/><path d="M1166.01 73.11L1170.61 77.71L1166.01 82.31L1161.41 77.71Z"/><path d="M1176.67 88.09L1181.27 92.69L1176.67 97.29L1172.07 92.69Z"/><path d="M1187.33 75.78L1191.93 80.38L1187.33 84.98L1182.73 80.38Z"/><path d="M1197.99 94.51L1202.59 99.11L1197.99 103.71L1193.39 99.11Z"/><path d="M1208.65 131.96L1213.25 136.56L1208.65 141.16L1204.05 136.56Z"/><path d="M1219.31 134.1L1223.91 138.7L1219.31 143.3L1214.71 138.7Z"/><path d="M1229.97 151.76L1234.57 156.36L1229.97 160.96L1225.37 156.36Z"/><path d="M1240.63 154.43L1245.23 159.03L1240.63 163.63L1236.03 159.03Z"/><path d="M1251.29 123.4L1255.89 128L1251.29 132.6L1246.69 128Z"/><path d="M1261.95 143.73L1266.55 148.33L1261.95 152.93L1257.35 148.33Z"/><path d="M1272.61 140.52L1277.21 145.12L1272.61 149.72L1268.01 145.12Z"/><path d="M1283.28 171.55L1287.88 176.15L1283.28 180.75L1278.68 176.15Z"/><path d="M1293.94 146.94L1298.54 151.54L1293.94 156.14L1289.34 151.54Z"/><path d="M1304.6 154.43L1309.2 159.03L1304.6 163.63L1300 159.03Z"/><path d="M1315.26 148.01L1319.86 152.61L1315.26 157.21L1310.66 152.61Z"/><path d="M1325.92 166.74L1330.52 171.34L1325.92 175.94L1321.32 171.34Z"/><path d="M1336.58 140.52L1341.18 145.12L1336.58 149.72L1331.98 145.12Z"/><path d="M1347.24 100.93L1351.84 105.53L1347.24 110.13L1342.64 105.53Z"/><path d="M1357.9 145.34L1362.5 149.94L1357.9 154.53L1353.3 149.94Z"/><path d="M1368.56 162.46L1373.16 167.06L1368.56 171.66L1363.96 167.06Z"/><path d="M1379.22 155.5L1383.82 160.1L1379.22 164.7L1374.62 160.1Z"/><path d="M1389.88 153.36L1394.48 157.96L1389.88 162.56L1385.28 157.96Z"/><path d="M1400.54 93.44L1405.14 98.04L1400.54 102.64L1395.94 98.04Z"/><path d="M1411.2 46.9L1415.8 51.5L1411.2 56.1L1406.6 51.5Z"/><path d="M1421.87 76.32L1426.47 80.92L1421.87 85.52L1417.27 80.92Z"/><path d="M1432.53 106.28L1437.13 110.88L1432.53 115.48L1427.93 110.88Z"/><path d="M1443.19 121.26L1447.79 125.86L1443.19 130.46L1438.59 125.86Z"/><path d="M1453.85 93.97L1458.45 98.57L1453.85 103.17L1449.25 98.57Z"/><path d="M1464.51 89.7L1469.11 94.3L1464.51 98.9L1459.91 94.3Z"/><path d="M1475.17 146.94L1479.77 151.54L1475.17 156.14L1470.57 151.54Z"/></g>
<path d="M942.13 438.3 L952.79 316.32 L963.45 203.44 L974.11 192.74 L984.77 406.2 L995.43 157.43 L1006.1 171.87 L1016.76 383.73 L1027.42 133.35 L1038.08 115.16 L1048.74 86.81 L1059.4 88.94 L1070.06 85.2 L1080.72 64.87 L1091.38 69.15 L1102.04 48.82 L1112.7 47.75 L1123.36 51.5 L1134.02 79.31 L1144.69 80.92 L1155.35 84.13 L1166.01 73.96 L1176.67 39.73 L1187.33 63.27 L1197.99 41.87 L1208.65 43.47 L1219.31 52.03 L1229.97 88.41 L1240.63 86.81 L1251.29 44.54 L1261.95 67.55 L1272.61 129.07 L1283.28 137.63 L1293.94 137.63 L1304.6 145.12 L1315.26 163.85 L1325.92 169.19 L1336.58 163.85 L1347.24 154.21 L1357.9 137.63 L1368.56 148.87 L1379.22 103.39 L1389.88 123.72 L1400.54 94.83 L1411.2 122.12 L1421.87 108.74 L1432.53 105.53 L1443.19 93.23 L1453.85 97.5 L1464.51 80.38 L1475.17 187.39" fill="none" stroke="#FFC000" stroke-width="2.1" stroke-linejoin="round" stroke-linecap="round"/>
<g><path d="M942.13 433.8L946.63 442.57L937.63 442.57Z"/><path d="M952.79 311.82L957.29 320.59L948.29 320.59Z"/><path d="M963.45 198.94L967.95 207.71L958.95 207.71Z"/><path d="M974.11 188.24L978.61 197.01L969.61 197.01Z"/><path d="M984.77 401.7L989.27 410.47L980.27 410.47Z"/><path d="M995.43 152.93L999.93 161.7L990.93 161.7Z"/><path d="M1006.1 167.37L1010.6 176.15L1001.6 176.15Z"/><path d="M1016.76 379.23L1021.26 388L1012.26 388Z"/><path d="M1027.42 128.85L1031.92 137.63L1022.92 137.63Z"/><path d="M1038.08 110.66L1042.58 119.44L1033.58 119.44Z"/><path d="M1048.74 82.31L1053.24 91.08L1044.24 91.08Z"/><path d="M1059.4 84.44L1063.9 93.22L1054.9 93.22Z"/><path d="M1070.06 80.7L1074.56 89.47L1065.56 89.47Z"/><path d="M1080.72 60.37L1085.22 69.15L1076.22 69.15Z"/><path d="M1091.38 64.65L1095.88 73.43L1086.88 73.43Z"/><path d="M1102.04 44.32L1106.54 53.1L1097.54 53.1Z"/><path d="M1112.7 43.25L1117.2 52.02L1108.2 52.02Z"/><path d="M1123.36 47L1127.86 55.77L1118.86 55.77Z"/><path d="M1134.02 74.81L1138.52 83.59L1129.52 83.59Z"/><path d="M1144.69 76.42L1149.19 85.2L1140.19 85.2Z"/><path d="M1155.35 79.63L1159.85 88.41L1150.85 88.41Z"/><path d="M1166.01 69.46L1170.51 78.24L1161.51 78.24Z"/><path d="M1176.67 35.23L1181.17 44L1172.17 44Z"/><path d="M1187.33 58.77L1191.83 67.54L1182.83 67.54Z"/><path d="M1197.99 37.37L1202.49 46.14L1193.49 46.14Z"/><path d="M1208.65 38.97L1213.15 47.75L1204.15 47.75Z"/><path d="M1219.31 47.53L1223.81 56.31L1214.81 56.31Z"/><path d="M1229.97 83.91L1234.47 92.69L1225.47 92.69Z"/><path d="M1240.63 82.31L1245.13 91.08L1236.13 91.08Z"/><path d="M1251.29 40.04L1255.79 48.82L1246.79 48.82Z"/><path d="M1261.95 63.05L1266.45 71.82L1257.45 71.82Z"/><path d="M1272.61 124.57L1277.11 133.35L1268.11 133.35Z"/><path d="M1283.28 133.13L1287.78 141.91L1278.78 141.91Z"/><path d="M1293.94 133.13L1298.44 141.91L1289.44 141.91Z"/><path d="M1304.6 140.62L1309.1 149.4L1300.1 149.4Z"/><path d="M1315.26 159.35L1319.76 168.12L1310.76 168.12Z"/><path d="M1325.92 164.69L1330.42 173.47L1321.42 173.47Z"/><path d="M1336.58 159.35L1341.08 168.12L1332.08 168.12Z"/><path d="M1347.24 149.71L1351.74 158.49L1342.74 158.49Z"/><path d="M1357.9 133.13L1362.4 141.91L1353.4 141.91Z"/><path d="M1368.56 144.37L1373.06 153.14L1364.06 153.14Z"/><path d="M1379.22 98.89L1383.72 107.66L1374.72 107.66Z"/><path d="M1389.88 119.22L1394.38 128L1385.38 128Z"/><path d="M1400.54 90.33L1405.04 99.1L1396.04 99.1Z"/><path d="M1411.2 117.62L1415.7 126.39L1406.7 126.39Z"/><path d="M1421.87 104.24L1426.37 113.02L1417.37 113.02Z"/><path d="M1432.53 101.03L1437.03 109.81L1428.03 109.81Z"/><path d="M1443.19 88.73L1447.69 97.5L1438.69 97.5Z"/><path d="M1453.85 93L1458.35 101.78L1449.35 101.78Z"/><path d="M1464.51 75.88L1469.01 84.66L1460.01 84.66Z"/><path d="M1475.17 182.89L1479.67 191.66L1470.67 191.66Z"/></g>
<path d="M942.13 438.3 L952.79 381.06 L963.45 287.43 L974.11 259.61 L984.77 403.53 L995.43 183.11 L1006.1 262.28 L1016.76 309.37 L1027.42 151 L1038.08 174.01 L1048.74 221.62 L1059.4 174.01 L1070.06 153.68 L1080.72 148.87 L1091.38 162.24 L1102.04 178.83 L1112.7 176.69 L1123.36 155.29 L1134.02 156.89 L1144.69 163.85 L1155.35 198.09 L1166.01 202.9 L1176.67 197.02 L1187.33 236.07 L1197.99 249.45 L1208.65 263.36 L1219.31 258.54 L1229.97 255.33 L1240.63 251.05 L1251.29 244.1 L1261.95 246.77 L1272.61 250.52 L1283.28 245.17 L1293.94 249.45 L1304.6 252.12 L1315.26 250.52 L1325.92 258 L1336.58 253.19 L1347.24 248.91 L1357.9 246.77 L1368.56 251.05 L1379.22 249.98 L1389.88 255.33 L1400.54 253.73 L1411.2 252.12 L1421.87 254.79 L1432.53 256.94 L1443.19 256.94 L1453.85 248.38 L1464.51 247.84 L1475.17 251.05" fill="none" stroke="#92D050" stroke-width="2.1" stroke-linejoin="round" stroke-linecap="round"/>
<g><rect x="938.28" y="434.45" width="7.7" height="7.7"/><rect x="948.94" y="377.2" width="7.7" height="7.7"/><rect x="959.6" y="283.58" width="7.7" height="7.7"/><rect x="970.26" y="255.76" width="7.7" height="7.7"/><rect x="980.92" y="399.68" width="7.7" height="7.7"/><rect x="991.58" y="179.26" width="7.7" height="7.7"/><rect x="1002.25" y="258.43" width="7.7" height="7.7"/><rect x="1012.91" y="305.51" width="7.7" height="7.7"/><rect x="1023.57" y="147.16" width="7.7" height="7.7"/><rect x="1034.23" y="170.16" width="7.7" height="7.7"/><rect x="1044.89" y="217.78" width="7.7" height="7.7"/><rect x="1055.55" y="170.16" width="7.7" height="7.7"/><rect x="1066.21" y="149.83" width="7.7" height="7.7"/><rect x="1076.87" y="145.02" width="7.7" height="7.7"/><rect x="1087.53" y="158.39" width="7.7" height="7.7"/><rect x="1098.19" y="174.98" width="7.7" height="7.7"/><rect x="1108.85" y="172.84" width="7.7" height="7.7"/><rect x="1119.51" y="151.44" width="7.7" height="7.7"/><rect x="1130.17" y="153.04" width="7.7" height="7.7"/><rect x="1140.84" y="160" width="7.7" height="7.7"/><rect x="1151.5" y="194.24" width="7.7" height="7.7"/><rect x="1162.16" y="199.05" width="7.7" height="7.7"/><rect x="1172.82" y="193.17" width="7.7" height="7.7"/><rect x="1183.48" y="232.22" width="7.7" height="7.7"/><rect x="1194.14" y="245.6" width="7.7" height="7.7"/><rect x="1204.8" y="259.5" width="7.7" height="7.7"/><rect x="1215.46" y="254.69" width="7.7" height="7.7"/><rect x="1226.12" y="251.48" width="7.7" height="7.7"/><rect x="1236.78" y="247.2" width="7.7" height="7.7"/><rect x="1247.44" y="240.25" width="7.7" height="7.7"/><rect x="1258.1" y="242.92" width="7.7" height="7.7"/><rect x="1268.76" y="246.67" width="7.7" height="7.7"/><rect x="1279.43" y="241.32" width="7.7" height="7.7"/><rect x="1290.09" y="245.6" width="7.7" height="7.7"/><rect x="1300.75" y="248.27" width="7.7" height="7.7"/><rect x="1311.41" y="246.67" width="7.7" height="7.7"/><rect x="1322.07" y="254.16" width="7.7" height="7.7"/><rect x="1332.73" y="249.34" width="7.7" height="7.7"/><rect x="1343.39" y="245.06" width="7.7" height="7.7"/><rect x="1354.05" y="242.92" width="7.7" height="7.7"/><rect x="1364.71" y="247.2" width="7.7" height="7.7"/><rect x="1375.37" y="246.13" width="7.7" height="7.7"/><rect x="1386.03" y="251.48" width="7.7" height="7.7"/><rect x="1396.69" y="249.88" width="7.7" height="7.7"/><rect x="1407.35" y="248.27" width="7.7" height="7.7"/><rect x="1418.02" y="250.94" width="7.7" height="7.7"/><rect x="1428.68" y="253.09" width="7.7" height="7.7"/><rect x="1439.34" y="253.09" width="7.7" height="7.7"/><rect x="1450" y="244.53" width="7.7" height="7.7"/><rect x="1460.66" y="243.99" width="7.7" height="7.7"/><rect x="1471.32" y="247.2" width="7.7" height="7.7"/></g>
<path d="M942.13 438.3 L952.79 382.12 L963.45 313.64 L974.11 291.18 L984.77 418.5 L995.43 331.3 L1006.1 285.83 L1016.76 300.81 L1027.42 288.5 L1038.08 259.07 L1048.74 263.89 L1059.4 275.66 L1070.06 266.03 L1080.72 267.1 L1091.38 261.22 L1102.04 261.75 L1112.7 248.38 L1123.36 263.36 L1134.02 261.75 L1144.69 258 L1155.35 259.07 L1166.01 265.5 L1176.67 261.22 L1187.33 260.68 L1197.99 258 L1208.65 266.03 L1219.31 266.56 L1229.97 266.56 L1240.63 257.47 L1251.29 245.17 L1261.95 248.38 L1272.61 270.31 L1283.28 270.31 L1293.94 267.1 L1304.6 268.17 L1315.26 263.89 L1325.92 264.43 L1336.58 264.96 L1347.24 264.43 L1357.9 270.85 L1368.56 269.24 L1379.22 273.52 L1389.88 271.38 L1400.54 271.92 L1411.2 267.63 L1421.87 267.1 L1432.53 271.38 L1443.19 277.26 L1453.85 274.59 L1464.51 272.99 L1475.17 272.45" fill="none" stroke="#00B0F0" stroke-width="2.1" stroke-linejoin="round" stroke-linecap="round"/>
<g><path d="M938.33 434.5L945.93 442.1M938.33 442.1L945.93 434.5M942.13 434.5L942.13 442.1" class="as"/><path d="M948.99 378.32L956.59 385.93M948.99 385.93L956.59 378.32M952.79 378.32L952.79 385.93" class="as"/><path d="M959.65 309.84L967.25 317.44M959.65 317.44L967.25 309.84M963.45 309.84L963.45 317.44" class="as"/><path d="M970.31 287.38L977.91 294.98M970.31 294.98L977.91 287.38M974.11 287.38L974.11 294.98" class="as"/><path d="M980.97 414.7L988.57 422.31M980.97 422.31L988.57 414.7M984.77 414.7L984.77 422.31" class="as"/><path d="M991.63 327.5L999.23 335.1M991.63 335.1L999.23 327.5M995.43 327.5L995.43 335.1" class="as"/><path d="M1002.3 282.03L1009.9 289.63M1002.3 289.63L1009.9 282.03M1006.1 282.03L1006.1 289.63" class="as"/><path d="M1012.96 297L1020.56 304.61M1012.96 304.61L1020.56 297M1016.76 297L1016.76 304.61" class="as"/><path d="M1023.62 284.7L1031.22 292.3M1023.62 292.3L1031.22 284.7M1027.42 284.7L1027.42 292.3" class="as"/><path d="M1034.28 255.27L1041.88 262.88M1034.28 262.88L1041.88 255.27M1038.08 255.27L1038.08 262.88" class="as"/><path d="M1044.94 260.09L1052.54 267.69M1044.94 267.69L1052.54 260.09M1048.74 260.09L1048.74 267.69" class="as"/><path d="M1055.6 271.86L1063.2 279.46M1055.6 279.46L1063.2 271.86M1059.4 271.86L1059.4 279.46" class="as"/><path d="M1066.26 262.23L1073.86 269.83M1066.26 269.83L1073.86 262.23M1070.06 262.23L1070.06 269.83" class="as"/><path d="M1076.92 263.3L1084.52 270.9M1076.92 270.9L1084.52 263.3M1080.72 263.3L1080.72 270.9" class="as"/><path d="M1087.58 257.42L1095.18 265.02M1087.58 265.02L1095.18 257.42M1091.38 257.42L1091.38 265.02" class="as"/><path d="M1098.24 257.95L1105.84 265.55M1098.24 265.55L1105.84 257.95M1102.04 257.95L1102.04 265.55" class="as"/><path d="M1108.9 244.58L1116.5 252.18M1108.9 252.18L1116.5 244.58M1112.7 244.58L1112.7 252.18" class="as"/><path d="M1119.56 259.56L1127.16 267.16M1119.56 267.16L1127.16 259.56M1123.36 259.56L1123.36 267.16" class="as"/><path d="M1130.22 257.95L1137.82 265.55M1130.22 265.55L1137.82 257.95M1134.02 257.95L1134.02 265.55" class="as"/><path d="M1140.89 254.2L1148.49 261.81M1140.89 261.81L1148.49 254.2M1144.69 254.2L1144.69 261.81" class="as"/><path d="M1151.55 255.27L1159.15 262.88M1151.55 262.88L1159.15 255.27M1155.35 255.27L1155.35 262.88" class="as"/><path d="M1162.21 261.69L1169.81 269.3M1162.21 269.3L1169.81 261.69M1166.01 261.69L1166.01 269.3" class="as"/><path d="M1172.87 257.42L1180.47 265.02M1172.87 265.02L1180.47 257.42M1176.67 257.42L1176.67 265.02" class="as"/><path d="M1183.53 256.88L1191.13 264.48M1183.53 264.48L1191.13 256.88M1187.33 256.88L1187.33 264.48" class="as"/><path d="M1194.19 254.2L1201.79 261.81M1194.19 261.81L1201.79 254.2M1197.99 254.2L1197.99 261.81" class="as"/><path d="M1204.85 262.23L1212.45 269.83M1204.85 269.83L1212.45 262.23M1208.65 262.23L1208.65 269.83" class="as"/><path d="M1215.51 262.76L1223.11 270.37M1215.51 270.37L1223.11 262.76M1219.31 262.76L1219.31 270.37" class="as"/><path d="M1226.17 262.76L1233.77 270.37M1226.17 270.37L1233.77 262.76M1229.97 262.76L1229.97 270.37" class="as"/><path d="M1236.83 253.67L1244.43 261.27M1236.83 261.27L1244.43 253.67M1240.63 253.67L1240.63 261.27" class="as"/><path d="M1247.49 241.37L1255.09 248.97M1247.49 248.97L1255.09 241.37M1251.29 241.37L1251.29 248.97" class="as"/><path d="M1258.15 244.58L1265.75 252.18M1258.15 252.18L1265.75 244.58M1261.95 244.58L1261.95 252.18" class="as"/><path d="M1268.81 266.51L1276.41 274.11M1268.81 274.11L1276.41 266.51M1272.61 266.51L1272.61 274.11" class="as"/><path d="M1279.48 266.51L1287.08 274.11M1279.48 274.11L1287.08 266.51M1283.28 266.51L1283.28 274.11" class="as"/><path d="M1290.14 263.3L1297.74 270.9M1290.14 270.9L1297.74 263.3M1293.94 263.3L1293.94 270.9" class="as"/><path d="M1300.8 264.37L1308.4 271.97M1300.8 271.97L1308.4 264.37M1304.6 264.37L1304.6 271.97" class="as"/><path d="M1311.46 260.09L1319.06 267.69M1311.46 267.69L1319.06 260.09M1315.26 260.09L1315.26 267.69" class="as"/><path d="M1322.12 260.62L1329.72 268.23M1322.12 268.23L1329.72 260.62M1325.92 260.62L1325.92 268.23" class="as"/><path d="M1332.78 261.16L1340.38 268.76M1332.78 268.76L1340.38 261.16M1336.58 261.16L1336.58 268.76" class="as"/><path d="M1343.44 260.62L1351.04 268.23M1343.44 268.23L1351.04 260.62M1347.24 260.62L1347.24 268.23" class="as"/><path d="M1354.1 267.05L1361.7 274.65M1354.1 274.65L1361.7 267.05M1357.9 267.05L1357.9 274.65" class="as"/><path d="M1364.76 265.44L1372.36 273.04M1364.76 273.04L1372.36 265.44M1368.56 265.44L1368.56 273.04" class="as"/><path d="M1375.42 269.72L1383.02 277.32M1375.42 277.32L1383.02 269.72M1379.22 269.72L1379.22 277.32" class="as"/><path d="M1386.08 267.58L1393.68 275.18M1386.08 275.18L1393.68 267.58M1389.88 267.58L1389.88 275.18" class="as"/><path d="M1396.74 268.12L1404.34 275.72M1396.74 275.72L1404.34 268.12M1400.54 268.12L1400.54 275.72" class="as"/><path d="M1407.4 263.83L1415 271.44M1407.4 271.44L1415 263.83M1411.2 263.83L1411.2 271.44" class="as"/><path d="M1418.07 263.3L1425.67 270.9M1418.07 270.9L1425.67 263.3M1421.87 263.3L1421.87 270.9" class="as"/><path d="M1428.73 267.58L1436.33 275.18M1428.73 275.18L1436.33 267.58M1432.53 267.58L1432.53 275.18" class="as"/><path d="M1439.39 273.46L1446.99 281.06M1439.39 281.06L1446.99 273.46M1443.19 273.46L1443.19 281.06" class="as"/><path d="M1450.05 270.79L1457.65 278.39M1450.05 278.39L1457.65 270.79M1453.85 270.79L1453.85 278.39" class="as"/><path d="M1460.71 269.19L1468.31 276.79M1460.71 276.79L1468.31 269.19M1464.51 269.19L1464.51 276.79" class="as"/><path d="M1471.37 268.65L1478.97 276.25M1471.37 276.25L1478.97 268.65M1475.17 268.65L1475.17 276.25" class="as"/></g>
<path d="M942.13 438.3 L952.79 380.52 L963.45 266.56 L974.11 220.56 L984.77 368.22 L995.43 270.85 L1006.1 270.31 L1016.76 247.31 L1027.42 219.49 L1038.08 173.48 L1048.74 257.47 L1059.4 215.21 L1070.06 236.07 L1080.72 239.28 L1091.38 244.63 L1102.04 242.49 L1112.7 245.17 L1123.36 257.47 L1134.02 252.66 L1144.69 252.66 L1155.35 257.47 L1166.01 255.33 L1176.67 254.26 L1187.33 259.07 L1197.99 256.94 L1208.65 262.28 L1219.31 257.47 L1229.97 259.61 L1240.63 260.68 L1251.29 254.79 L1261.95 252.66 L1272.61 253.73 L1283.28 253.73 L1293.94 265.5 L1304.6 261.75 L1315.26 262.28 L1325.92 262.82 L1336.58 261.75 L1347.24 261.75 L1357.9 265.5 L1368.56 260.68 L1379.22 263.89 L1389.88 262.28 L1400.54 261.75 L1411.2 271.92 L1421.87 264.96 L1432.53 263.89 L1443.19 269.24 L1453.85 269.77 L1464.51 266.56 L1475.17 279.94" fill="none" stroke="#7030A0" stroke-width="2.1" stroke-linejoin="round" stroke-linecap="round"/>
<g><circle cx="942.13" cy="438.3" r="3.6" class="oc"/><circle cx="952.79" cy="380.52" r="3.6" class="oc"/><circle cx="963.45" cy="266.56" r="3.6" class="oc"/><circle cx="974.11" cy="220.56" r="3.6" class="oc"/><circle cx="984.77" cy="368.22" r="3.6" class="oc"/><circle cx="995.43" cy="270.85" r="3.6" class="oc"/><circle cx="1006.1" cy="270.31" r="3.6" class="oc"/><circle cx="1016.76" cy="247.31" r="3.6" class="oc"/><circle cx="1027.42" cy="219.49" r="3.6" class="oc"/><circle cx="1038.08" cy="173.48" r="3.6" class="oc"/><circle cx="1048.74" cy="257.47" r="3.6" class="oc"/><circle cx="1059.4" cy="215.21" r="3.6" class="oc"/><circle cx="1070.06" cy="236.07" r="3.6" class="oc"/><circle cx="1080.72" cy="239.28" r="3.6" class="oc"/><circle cx="1091.38" cy="244.63" r="3.6" class="oc"/><circle cx="1102.04" cy="242.49" r="3.6" class="oc"/><circle cx="1112.7" cy="245.17" r="3.6" class="oc"/><circle cx="1123.36" cy="257.47" r="3.6" class="oc"/><circle cx="1134.02" cy="252.66" r="3.6" class="oc"/><circle cx="1144.69" cy="252.66" r="3.6" class="oc"/><circle cx="1155.35" cy="257.47" r="3.6" class="oc"/><circle cx="1166.01" cy="255.33" r="3.6" class="oc"/><circle cx="1176.67" cy="254.26" r="3.6" class="oc"/><circle cx="1187.33" cy="259.07" r="3.6" class="oc"/><circle cx="1197.99" cy="256.94" r="3.6" class="oc"/><circle cx="1208.65" cy="262.28" r="3.6" class="oc"/><circle cx="1219.31" cy="257.47" r="3.6" class="oc"/><circle cx="1229.97" cy="259.61" r="3.6" class="oc"/><circle cx="1240.63" cy="260.68" r="3.6" class="oc"/><circle cx="1251.29" cy="254.79" r="3.6" class="oc"/><circle cx="1261.95" cy="252.66" r="3.6" class="oc"/><circle cx="1272.61" cy="253.73" r="3.6" class="oc"/><circle cx="1283.28" cy="253.73" r="3.6" class="oc"/><circle cx="1293.94" cy="265.5" r="3.6" class="oc"/><circle cx="1304.6" cy="261.75" r="3.6" class="oc"/><circle cx="1315.26" cy="262.28" r="3.6" class="oc"/><circle cx="1325.92" cy="262.82" r="3.6" class="oc"/><circle cx="1336.58" cy="261.75" r="3.6" class="oc"/><circle cx="1347.24" cy="261.75" r="3.6" class="oc"/><circle cx="1357.9" cy="265.5" r="3.6" class="oc"/><circle cx="1368.56" cy="260.68" r="3.6" class="oc"/><circle cx="1379.22" cy="263.89" r="3.6" class="oc"/><circle cx="1389.88" cy="262.28" r="3.6" class="oc"/><circle cx="1400.54" cy="261.75" r="3.6" class="oc"/><circle cx="1411.2" cy="271.92" r="3.6" class="oc"/><circle cx="1421.87" cy="264.96" r="3.6" class="oc"/><circle cx="1432.53" cy="263.89" r="3.6" class="oc"/><circle cx="1443.19" cy="269.24" r="3.6" class="oc"/><circle cx="1453.85" cy="269.77" r="3.6" class="oc"/><circle cx="1464.51" cy="266.56" r="3.6" class="oc"/><circle cx="1475.17" cy="279.94" r="3.6" class="oc"/></g>
<path d="M1514.8 179.6H1553.4" stroke="#00B050" stroke-width="2.1" fill="none"/>
<path d="M1534.1 175L1538.7 179.6L1534.1 184.2L1529.5 179.6Z" class="od"/>
<text x="1557.4" y="185.6" class="lg">Al-Cu-5N</text>
<path d="M1514.8 212.9H1553.4" stroke="#FF0000" stroke-width="2.1" fill="none"/>
<path d="M1534.1 208.3L1538.7 212.9L1534.1 217.5L1529.5 212.9Z"/>
<text x="1557.4" y="218.9" class="lg">Al-Cu-15N</text>
<path d="M1514.8 246.2H1553.4" stroke="#FFC000" stroke-width="2.1" fill="none"/>
<path d="M1534.1 241.7L1538.6 250.47L1529.6 250.47Z"/>
<text x="1557.4" y="252.2" class="lg">Al-Cu-30N</text>
<path d="M1514.8 279.5H1553.4" stroke="#92D050" stroke-width="2.1" fill="none"/>
<rect x="1530.25" y="275.65" width="7.7" height="7.7"/>
<text x="1557.4" y="285.5" class="lg">Al-Cu-40N</text>
<path d="M1514.8 312.8H1553.4" stroke="#00B0F0" stroke-width="2.1" fill="none"/>
<path d="M1530.3 309L1537.9 316.6M1530.3 316.6L1537.9 309M1534.1 309L1534.1 316.6" class="as"/>
<text x="1557.4" y="318.8" class="lg">Al-Cu-50N</text>
<path d="M1514.8 346.1H1553.4" stroke="#7030A0" stroke-width="2.1" fill="none"/>
<circle cx="1534.1" cy="346.1" r="3.6" class="oc"/>
<text x="1557.4" y="352.1" class="lg">Al-Cu-60N</text>
<text class="ti" transform="translate(21.8 224.6) rotate(-90)" text-anchor="middle">Coefficient of Friction</text>
<text class="ti" transform="translate(877.8 224.3) rotate(-90)" text-anchor="middle">Coefficient of Friction</text>
<text class="ti" x="360.6" y="507.9" text-anchor="middle">Friction Contact Time / s</text>
<text class="ti" x="1209" y="507.9" text-anchor="middle">Friction Contact Time / s</text>
<text class="big" transform="translate(721.8 58.3) scale(0.95 1)" font-size="71">a</text>
<text class="big" transform="translate(1587.6 73.95) scale(0.93 1)" font-size="75">b</text>
</svg>
</body></html>
